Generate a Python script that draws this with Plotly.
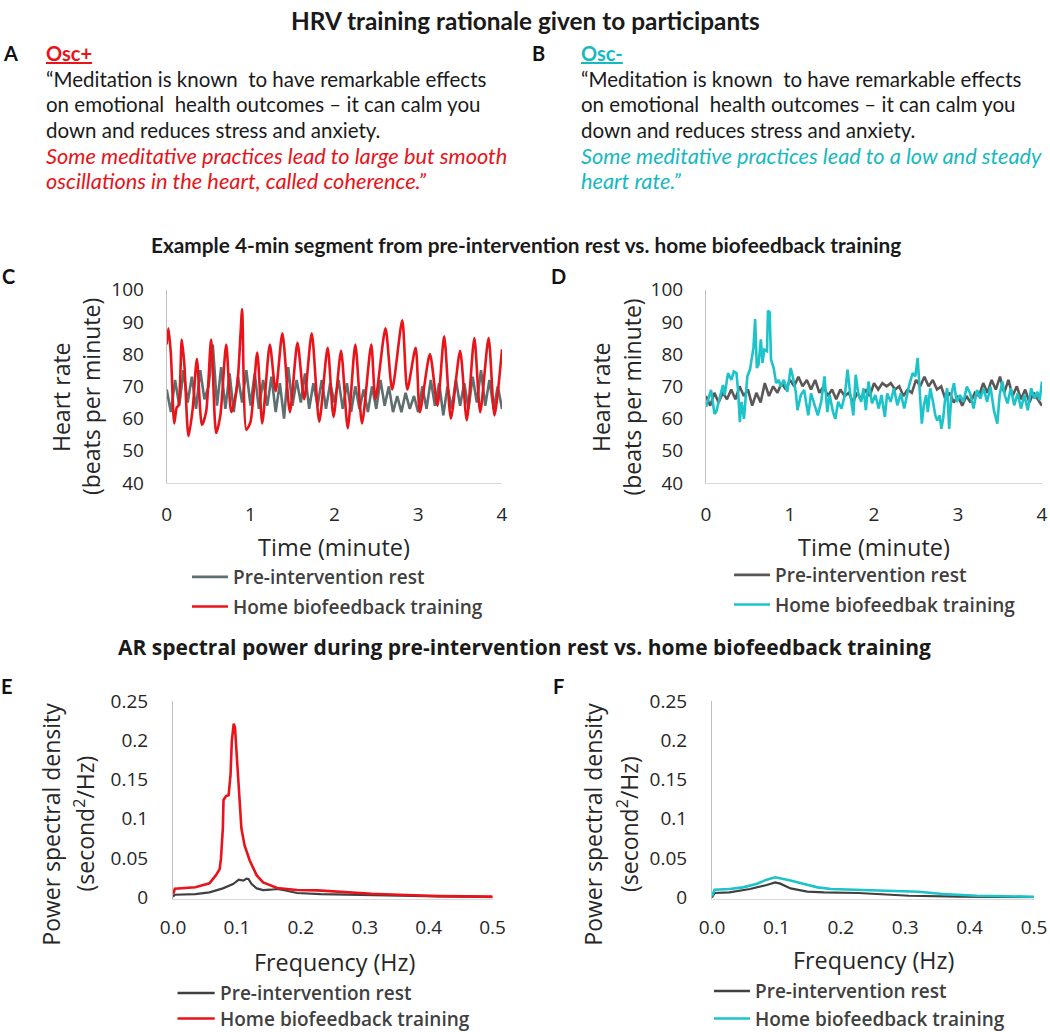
import plotly.graph_objects as go

W, H = 1050, 1032

# ---------------- data ----------------
# Panel C: heart rate (bpm) vs time (min)
RED_C_T = [0.00,0.02,0.05,0.09,0.12,0.14,0.18,0.21,0.26,0.31,0.36,0.42,0.47,0.53,0.59,0.64,0.71,0.77,0.84,0.88,
           0.90,0.95,1.00,1.08,1.14,1.23,1.30,1.38,1.47,1.56,1.64,1.73,1.82,1.92,1.99,2.08,2.16,2.25,2.33,2.44,
           2.49,2.61,2.69,2.81,2.87,2.97,3.02,3.14,3.23,3.31,3.39,3.50,3.58,3.67,3.74,3.84,3.91,4.00]
RED_C_V = [83,88,80,58.5,63.5,64,84.5,77,54.5,63,78.5,58,62,84.5,55.5,61,83,62,70,86,
           94,56.5,59,80.5,58.5,83,68.5,86.5,62,83.5,66,86.5,59,82,60.5,81,57,83,58.5,83,
           66,88,69,90.5,69,82,62,80,64,85.5,60,81,59.5,85,62,85,61,81.5]

GRAY_T = [0.00,0.05,0.10,0.15,0.20,0.25,0.30,0.35,0.40,0.45,0.50,0.55,0.60,0.65,0.70,0.75,0.80,0.85,0.90,0.95,
          1.00,1.05,1.10,1.15,1.20,1.25,1.30,1.35,1.40,1.45,1.50,1.55,1.60,1.65,1.70,1.75,1.80,1.85,1.90,1.95,
          2.00,2.05,2.10,2.15,2.20,2.25,2.30,2.35,2.40,2.45,2.50,2.55,2.60,2.65,2.70,2.75,2.80,2.85,2.90,2.95,
          3.00,3.05,3.10,3.15,3.20,3.25,3.30,3.35,3.40,3.45,3.50,3.55,3.60,3.65,3.70,3.75,3.80,3.85,3.90,3.95,4.00]
GRAY_C_V = [69,62,72,64,75,65,73,63,75,66,
            70,83,64,76,63,74,62,73,65,75,
            64,74,63,72,64,73,62,71,60,76,
            64,72,65,74,63,71,64,72,63,71,
            65,72,63,71,62,70,63,69,62,70,
            63,72,64,70,62,67,62,68,63,67,
            62,70,63,72,64,71,61,70,63,72,
            64,71,63,73,65,75,64,72,63,70,
            63]

# Panel D
GRAY_D_V = [67,64,68,65,68,66,69,66,70,67,
            69,64,68,65,71,67,70,68,71,69,
            72,70,73,70,72,69,72,68,70,67,
            69,66,69,67,68,65,68,66,69,67,
            71,69,71,70,71,69,70,67,69,68,
            72,70,73,70,72,69,70,66,68,65,
            67,64,67,65,68,67,71,68,72,69,
            73,68,72,67,70,66,69,65,68,66,
            64]
CYAN_D_T = [0.000,0.060,0.101,0.121,0.202,0.222,0.262,0.302,0.331,0.363,
            0.383,0.403,0.423,0.452,0.476,0.492,0.524,0.544,0.565,0.585,
            0.605,0.625,0.653,0.673,0.694,0.726,0.738,0.758,0.774,0.806,
            0.835,0.867,0.887,0.927,0.968,1.008,1.028,1.069,1.089,1.129,
            1.169,1.190,1.218,1.250,1.290,1.331,1.371,1.411,1.444,1.472,
            1.512,1.540,1.573,1.613,1.653,1.685,1.714,1.754,1.782,1.815,
            1.847,1.875,1.903,1.935,1.976,2.016,2.056,2.089,2.129,2.157,
            2.198,2.238,2.278,2.319,2.359,2.419,2.460,2.492,2.520,2.540,
            2.569,2.593,2.621,2.641,2.669,2.702,2.730,2.754,2.782,2.802,
            2.823,2.843,2.871,2.895,2.923,2.952,2.984,3.024,3.065,3.105,
            3.145,3.185,3.226,3.266,3.306,3.347,3.387,3.427,3.468,3.496,
            3.528,3.556,3.589,3.629,3.669,3.710,3.750,3.790,3.831,3.871,
            3.911,3.944,3.972,4.000]
CYAN_D_V = [63.6,68.9,61.5,62.0,70.4,67.3,74.1,72.0,74.6,74.1,
            68.3,58.9,65.2,59.9,67.8,73.1,75.2,79.3,82.0,90.9,
            75.7,76.7,84.6,77.3,81.4,80.9,93.5,93.0,78.3,75.7,
            71.0,72.0,69.9,72.0,68.3,75.7,73.6,68.3,62.6,67.3,
            68.9,65.2,61.0,67.8,64.1,61.0,65.2,73.1,62.0,67.3,
            62.0,59.9,65.2,63.1,67.3,75.2,68.3,61.0,73.6,67.3,
            65.2,69.4,62.6,71.5,64.7,67.3,63.1,67.3,60.5,67.8,
            65.2,69.4,64.1,67.8,63.1,70.4,74.1,73.1,78.8,69.4,
            58.4,64.1,67.3,62.0,69.4,65.2,61.0,59.4,61.0,56.8,
            59.9,65.2,69.4,56.8,67.8,71.0,65.2,67.3,65.2,69.9,
            67.8,63.1,68.9,66.2,69.4,65.2,69.9,62.6,58.4,67.3,
            71.5,67.3,64.7,69.4,64.1,67.8,63.1,67.3,62.6,69.4,
            66.2,68.3,65.7,71.5]

# Panel E: PSD (s^2/Hz) vs frequency (Hz)
RED_E_F = [0.000,0.003,0.035,0.057,0.067,0.073,0.075,0.078,0.079,0.083,0.087,0.090,0.092,0.095,0.097,
           0.100,0.103,0.107,0.112,0.120,0.131,0.141,0.163,0.194,0.226,0.258,0.311,0.364,0.417,0.500]
RED_E_V = [0.004,0.011,0.013,0.018,0.028,0.036,0.049,0.088,0.124,0.129,0.130,0.156,0.199,0.221,0.216,
           0.177,0.126,0.088,0.066,0.047,0.028,0.019,0.012,0.0094,0.009,0.0073,0.0047,0.003,0.0017,0.001]
GRAY_E_F = [0.000,0.003,0.035,0.057,0.078,0.094,0.099,0.103,0.110,0.115,0.118,0.123,0.131,0.141,0.152,
            0.163,0.178,0.194,0.231,0.284,0.337,0.417,0.500]
GRAY_E_V = [0.001,0.0034,0.0043,0.0064,0.0115,0.017,0.020,0.0226,0.0214,0.024,0.0235,0.017,0.0115,0.0094,0.0098,
            0.0107,0.0085,0.0056,0.0043,0.0034,0.0021,0.0013,0.0004]

# Panel F
CYAN_F_F = [0.000,0.004,0.027,0.048,0.069,0.085,0.098,0.106,0.122,0.143,0.164,0.185,0.227,0.279,0.321,0.358,0.411,0.500]
CYAN_F_V = [0.0013,0.0098,0.0107,0.0128,0.017,0.0226,0.0256,0.0243,0.0214,0.017,0.0128,0.0107,0.0094,0.0085,0.0073,
            0.0043,0.0021,0.0009]
GRAY_F_F = [0.000,0.004,0.027,0.059,0.085,0.098,0.106,0.122,0.148,0.174,0.227,0.253,0.306,0.384,0.500]
GRAY_F_V = [0.0,0.0056,0.0064,0.0107,0.0158,0.0192,0.0175,0.0115,0.0073,0.0064,0.0056,0.0043,0.0021,0.0009,0.0002]

HR_TICKS = [40, 50, 60, 70, 80, 90, 100]
TIME_TICKS = [0, 1, 2, 3, 4]
PSD_TICKS = [0, 0.05, 0.1, 0.15, 0.2, 0.25]
PSD_TICKTEXT = ["0", "0.05", "0.1", "0.15", "0.2", "0.25"]
FREQ_TICKS = [0.0, 0.1, 0.2, 0.3, 0.4, 0.5]

LEG_REST = "Pre-intervention rest"
LEG_HOME = "Home biofeedback training"
LEG_HOME_D = "Home biofeedbak training"

for a, b in [(RED_C_T, RED_C_V), (GRAY_T, GRAY_C_V), (GRAY_T, GRAY_D_V), (CYAN_D_T, CYAN_D_V),
             (RED_E_F, RED_E_V), (GRAY_E_F, GRAY_E_V), (CYAN_F_F, CYAN_F_V), (GRAY_F_F, GRAY_F_V)]:
    assert len(a) == len(b), (len(a), len(b))

RED = "#e8141a"
CYAN = "#1cc3c8"
GRAY_C = "#5f6e6e"
GRAY_D = "#5b5757"
GRAY_PSD = "#404040"

fig = go.Figure()


def add(x, y, color, name, xa, ya, leg, shape="linear", width=2.6, smoothing=None, showlegend=True):
    line = dict(color=color, width=width, shape=shape)
    if smoothing is not None:
        line["smoothing"] = smoothing
    fig.add_trace(go.Scatter(x=x, y=y, mode="lines", line=line, name=name,
                             xaxis=xa, yaxis=ya, legend=leg, legendgroup=leg + name,
                             showlegend=showlegend, hoverinfo="skip"))


add(GRAY_T, GRAY_C_V, GRAY_C, LEG_REST, "x", "y", "legend")
add(RED_C_T, RED_C_V, RED, LEG_HOME, "x", "y", "legend", shape="spline", smoothing=0.7)
add(GRAY_T, GRAY_D_V, GRAY_D, LEG_REST, "x2", "y2", "legend2")
add(CYAN_D_T, CYAN_D_V, CYAN, LEG_HOME_D, "x2", "y2", "legend2")
add(GRAY_E_F, GRAY_E_V, GRAY_PSD, LEG_REST, "x3", "y3", "legend", width=2.2, showlegend=False)
add(RED_E_F, RED_E_V, RED, LEG_HOME, "x3", "y3", "legend", width=2.6, showlegend=False)
add(GRAY_F_F, GRAY_F_V, GRAY_PSD, LEG_REST, "x4", "y4", "legend", width=2.2, showlegend=False)
add(CYAN_F_F, CYAN_F_V, CYAN, LEG_HOME, "x4", "y4", "legend", width=2.6, showlegend=False)

TICKFONT = dict(family="Open Sans", size=19, color="#262626")


def xax(x0, x1, anchor, rng, tickvals, ticklen, tickformat=None):
    d = dict(domain=[x0 / W, x1 / W], anchor=anchor, range=rng, tickvals=tickvals,
             showline=True, linecolor="#d9d9d9", linewidth=1, showgrid=False, zeroline=False,
             ticks="outside", ticklen=ticklen, tickcolor="rgba(0,0,0,0)", tickfont=TICKFONT,
             fixedrange=True, automargin=False, ticklabeloverflow="allow")
    if tickformat:
        d["tickformat"] = tickformat
    return d


def yax(y0, y1, anchor, rng, tickvals, ticklen, ticktext=None):
    d = dict(domain=[1 - y0 / H, 1 - y1 / H], anchor=anchor, range=rng, tickvals=tickvals,
             showline=True, linecolor="#bfbfbf", linewidth=1, showgrid=False, zeroline=False,
             ticks="outside", ticklen=ticklen, tickcolor="rgba(0,0,0,0)", tickfont=TICKFONT,
             fixedrange=True, automargin=False, ticklabeloverflow="allow")
    if ticktext:
        d["ticktext"] = ticktext
    return d


LEGFONT = dict(family="Open Sans", size=19, color="#404040", weight=600)


def leg(x, y):
    return dict(x=x / W, y=1 - y / H, xanchor="left", yanchor="top", bgcolor="rgba(0,0,0,0)",
                font=LEGFONT, itemwidth=36, tracegroupgap=2, traceorder="grouped")


fig.update_layout(
    width=W, height=H, autosize=False,
    margin=dict(l=0, r=0, t=0, b=0, pad=0, autoexpand=False),
    paper_bgcolor="white", plot_bgcolor="white",
    xaxis=xax(166.7, 502, "y", [0, 4], TIME_TICKS, 14),
    yaxis=yax(483, 289.7, "x", [40, 100], HR_TICKS, 18),
    xaxis2=xax(706, 1042, "y2", [0, 4], TIME_TICKS, 14),
    yaxis2=yax(483, 289.7, "x2", [40, 100], HR_TICKS, 18),
    xaxis3=xax(173, 492.6, "y3", [0, 0.5], FREQ_TICKS, 12, ".1f"),
    yaxis3=yax(898.6, 700.9, "x3", [-0.0015, 0.25], PSD_TICKS, 20, PSD_TICKTEXT),
    xaxis4=xax(712, 1034, "y4", [0, 0.5], FREQ_TICKS, 12, ".1f"),
    yaxis4=yax(898.6, 700.9, "x4", [-0.0015, 0.25], PSD_TICKS, 20, PSD_TICKTEXT),
    legend=leg(187, 558),
    legend2=leg(729, 556),
)


def txt(x, y, text, size, color="#1a1a1a", family="Lato", xanchor="left", angle=0, weight="normal",
        style="normal"):
    fig.add_annotation(x=x / W, y=1 - y / H, xref="paper", yref="paper", text=text, showarrow=False,
                       xanchor=xanchor, yanchor="middle", textangle=angle,
                       font=dict(family=family, size=size, color=color, weight=weight, style=style))


# section titles
txt(525, 20, "HRV training rationale given to participants", 24.4, xanchor="center", weight="bold")
txt(526, 245, "Example 4-min segment from pre-intervention rest vs. home biofeedback training", 20.8,
    xanchor="center", weight="bold")
txt(524, 647, "AR spectral power during pre-intervention rest vs. home biofeedback training", 21,
    family="Open Sans", xanchor="center", weight="bold")

# panel letters
for lx, ly, lt in [(1, 53, "A"), (530, 53, "B"), (0, 276, "C"), (549, 276, "D"), (-1, 686, "E"), (551, 686, "F")]:
    txt(lx, ly, lt, 20, color="#111111", weight="bold")

# A / B texts
QUOTE = ["\u201cMeditation is known  to have remarkable effects",
         "on emotional  health outcomes \u2013 it can calm you",
         "down and reduces stress and anxiety."]
A_RED = ["Some meditative practices lead to large but smooth",
         "oscillations in the heart, called coherence.\u201d"]
B_CYAN = ["Some meditative practices lead to a low and steady",
          "heart rate.\u201d"]
LINE_Y = [79, 104.5, 130, 155.5, 181]

txt(44, 53, "<u>Osc+</u>", 20, color=RED, weight="bold")
txt(579, 53, "<u>Osc-</u>", 20, color="#17b9c0", weight="bold")
for i, s in enumerate(QUOTE):
    txt(44, LINE_Y[i], s, 20.5)
    txt(579, LINE_Y[i], s, 20.5)
for i, s in enumerate(A_RED):
    txt(44, LINE_Y[3 + i], s, 21.8, color=RED, style="italic")
for i, s in enumerate(B_CYAN):
    txt(579, LINE_Y[3 + i], s, 21.8, color="#17b9c0", style="italic")

# axis titles
for cx, x1, x2 in [(334, 61, 91), (874, 601, 631.6)]:
    txt(x1, 397, "Heart rate", 23, color="#262626", family="Open Sans", xanchor="center", angle=-90)
    txt(x2, 397, "(beats per minute)", 23, color="#262626", family="Open Sans", xanchor="center", angle=-90)
    txt(cx, 547, "Time (minute)", 23.5, color="#262626", family="Open Sans", xanchor="center")
for cx, x1, x2, ty in [(334, 50.7, 84.5, 962), (873, 592.7, 628, 960)]:
    txt(x1, 824, "Power spectral density", 23, color="#262626", family="Open Sans", xanchor="center", angle=-90)
    txt(x2, 824, "(second<sup>2</sup>/Hz)", 23, color="#262626", family="Open Sans", xanchor="center", angle=-90)
    txt(cx, ty, "Frequency (Hz)", 23.3, color="#262626", family="Open Sans", xanchor="center")

# legends of panels E and F sit at the very bottom edge: key line + label
for lx0, lx1, ly, color, label in [(177.5, 214.7, 993, GRAY_PSD, LEG_REST),
                                   (177.5, 214.7, 1018.5, RED, LEG_HOME),
                                   (714, 750, 991, GRAY_PSD, LEG_REST),
                                   (714, 750, 1018.5, CYAN, LEG_HOME)]:
    fig.add_shape(type="line", xref="paper", yref="paper", x0=lx0 / W, x1=lx1 / W,
                  y0=1 - ly / H, y1=1 - ly / H, line=dict(color=color, width=2.6))
    fig.add_annotation(x=(lx1 + 3) / W, y=1 - ly / H, xref="paper", yref="paper", text=label,
                       showarrow=False, xanchor="left", yanchor="middle", font=LEGFONT)

# remove the default 8px page margin so the figure fills the 1050x1032 window exactly
fig.write_html("out.html", config={"displayModeBar": False, "staticPlot": True},
               post_script="document.body.style.margin='0px';")
